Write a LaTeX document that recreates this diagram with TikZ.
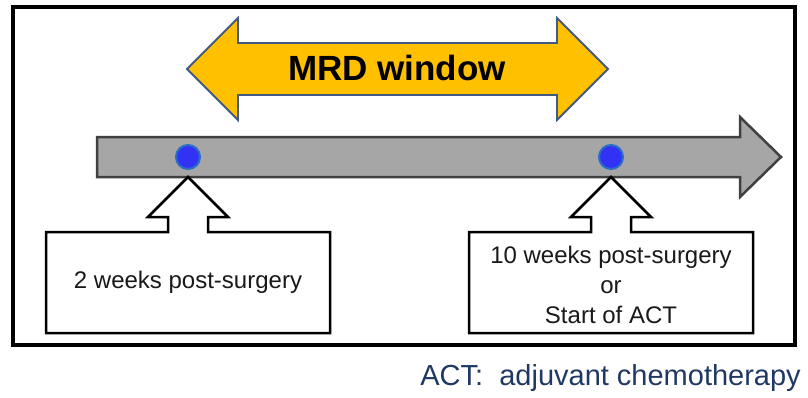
\documentclass[tikz,border=0pt]{standalone}
\usepackage{fontspec}
\setmainfont{Liberation Sans}
\definecolor{mrdyellow}{RGB}{255,192,0}
\definecolor{mrdborder}{RGB}{65,90,130}
\definecolor{timegray}{RGB}{166,166,166}
\definecolor{timeborder}{RGB}{64,64,64}
\definecolor{dotblue}{RGB}{50,50,245}
\definecolor{dotring}{RGB}{40,110,200}
\definecolor{navytext}{RGB}{32,56,100}
\definecolor{bodytext}{RGB}{25,25,25}
\begin{document}
\begin{tikzpicture}[x=1pt,y=-1pt,line join=miter,
  frame/.style={draw=black,line width=3.5pt},
  mrdarrow/.style={fill=mrdyellow,draw=mrdborder,line width=1.8pt},
  timearrow/.style={fill=timegray,draw=timeborder,line width=2.5pt},
  timedot/.style={circle,minimum size=24pt,inner sep=0pt,fill=dotblue,draw=dotring,line width=2pt},
  callout/.style={draw=black,fill=white,line width=2.5pt},
  calltext/.style={text=bodytext,font=\fontsize{24}{30}\selectfont,align=center,inner sep=0pt},
  notetext/.style={text=navytext,font=\fontsize{29}{34}\selectfont,inner sep=0pt}]
\useasboundingbox (0,0) rectangle (808,397);
% outer frame
\draw[frame] (13,7) rectangle (795,345);
% MRD window double arrow
\draw[mrdarrow] (187,69) -- (238,18) -- (238,43) -- (557,43) -- (557,18) -- (608,69)
  -- (557,120) -- (557,95) -- (238,95) -- (238,120) -- cycle;
\node[inner sep=0pt] (mrd) at (397,68) {\fontsize{35}{40}\selectfont\bfseries MRD window};
% timeline arrow
\draw[timearrow] (97,137) -- (740,137) -- (740,117) -- (781,157) -- (740,197)
  -- (740,177) -- (97,177) -- cycle;
% time points
\node[timedot] (d1) at (188,157) {};
\node[timedot] (d2) at (611,157) {};
% callouts
\coordinate (tip1) at (188,177);
\coordinate (tip2) at (611,177);
\draw[callout] (46,333) -- (46,232) -- (168,232) -- (168,217) -- (148,217) -- (tip1)
  -- (228,217) -- (208,217) -- (208,232) -- (330,232) -- (330,333) -- cycle;
\draw[callout] (469,333) -- (469,232) -- (591,232) -- (591,217) -- (571,217) -- (tip2)
  -- (651,217) -- (631,217) -- (631,232) -- (753,232) -- (753,333) -- cycle;
\node[calltext] (t1) at (188,282) {2 weeks post-surgery};
\node[calltext] (t2) at (611,285) {10 weeks post-surgery\\or\\Start of ACT};
% note
\node[notetext,anchor=base east] (note) at (801,385) {ACT:\ \ adjuvant chemotherapy};
\end{tikzpicture}
\end{document}
